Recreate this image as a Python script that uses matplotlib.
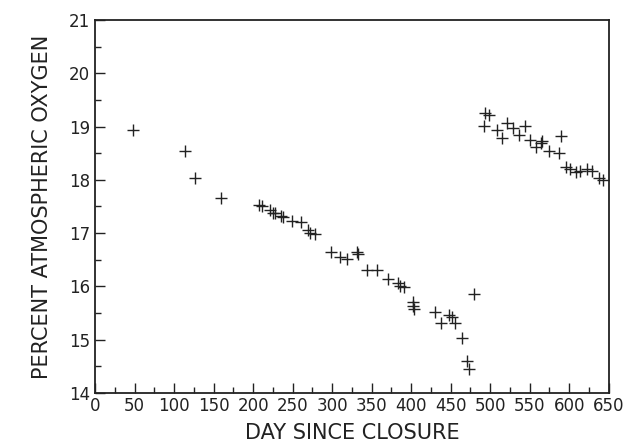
import matplotlib.pyplot as plt
from matplotlib.ticker import MultipleLocator
from matplotlib import font_manager

# 读图估计的数据 (day, % O2)
days_before = [48, 114, 127, 159, 208, 211, 221, 225, 228, 235, 238, 249, 260,
               270, 272, 278, 299, 310, 319, 331, 333, 344, 357, 371, 383, 386,
               391, 402, 402, 403, 430, 438, 448, 452, 456, 464, 471, 473, 480]
oxygen_before = [18.93, 18.55, 18.04, 17.65, 17.53, 17.51, 17.43, 17.38, 17.37,
                 17.32, 17.30, 17.22, 17.20, 17.06, 17.01, 16.98, 16.65, 16.56,
                 16.51, 16.65, 16.61, 16.31, 16.30, 16.13, 16.07, 16.01, 15.98,
                 15.70, 15.63, 15.57, 15.51, 15.32, 15.47, 15.42, 15.32, 15.03,
                 14.60, 14.45, 15.86]

days_after = [492, 493, 499, 508, 515, 521, 529, 536, 544, 550, 558, 564, 565,
              575, 587, 589, 596, 601, 609, 614, 622, 629, 638, 643]
oxygen_after = [19.01, 19.25, 19.22, 18.94, 18.78, 19.06, 18.97, 18.84, 19.01,
                18.75, 18.62, 18.70, 18.72, 18.55, 18.51, 18.82, 18.24, 18.20,
                18.15, 18.17, 18.20, 18.17, 18.03, 17.99]

x_ticks = list(range(0, 651, 50))
y_ticks = list(range(14, 22))

installed = {f.name for f in font_manager.fontManager.ttflist}
font = 'Liberation Sans Narrow' if 'Liberation Sans Narrow' in installed else 'DejaVu Sans'
plt.rcParams['font.family'] = [font, 'DejaVu Sans']

fig = plt.figure(figsize=(6.25, 4.45), dpi=100)
ax = fig.add_axes([0.152, 0.117, 0.822, 0.838])

ax.plot(days_before + days_after, oxygen_before + oxygen_after, linestyle='none',
        marker='+', markersize=8, markeredgewidth=1.0, color='#222222')

ax.set_xlim(0, 650)
ax.set_ylim(14, 21)
ax.set_xticks(x_ticks)
ax.set_yticks(y_ticks)
ax.xaxis.set_minor_locator(MultipleLocator(25))
ax.yaxis.set_minor_locator(MultipleLocator(0.5))
ax.tick_params(which='both', direction='in', top=False, right=False,
               width=1.0, colors='#222222', labelsize=12)
ax.tick_params(which='major', length=7)
ax.tick_params(which='minor', length=4)
ax.tick_params(axis='x', pad=3)

for s in ax.spines.values():
    s.set_linewidth(1.3)
    s.set_color('#222222')

ax.set_xlabel('DAY SINCE CLOSURE', fontsize=15, labelpad=6, color='#222222')
ax.set_ylabel('PERCENT ATMOSPHERIC OXYGEN', fontsize=15, labelpad=12, color='#222222')

fig.savefig('out.png', dpi=100)
